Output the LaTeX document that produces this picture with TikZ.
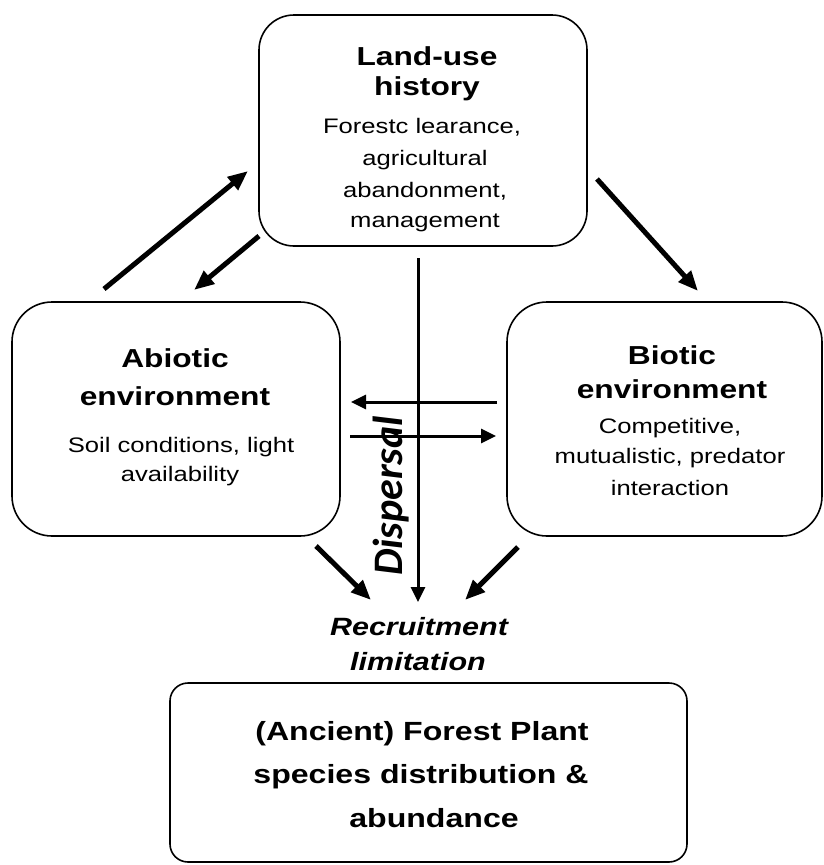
\documentclass[tikz,border=0pt]{standalone}
\usepackage{fontspec}
\setmainfont{Liberation Sans}[FakeStretch=1.22]
\newfontfamily\dispfont{Carlito}
\usetikzlibrary{arrows.meta}
\begin{document}
\begin{tikzpicture}[x=1pt,y=-1pt,
  box/.style={draw, line width=1.6pt, rounded corners=#1, inner sep=0pt},
  box/.default=35pt,
  ttl/.style={inner sep=0pt, anchor=base, font=\fontsize{26}{30}\selectfont\bfseries},
  txt/.style={inner sep=0pt, anchor=base, font=\fontsize{21}{25}\selectfont},
  big/.style={inner sep=0pt, anchor=base, font=\fontsize{26.3}{30}\selectfont\bfseries},
  reclbl/.style={inner sep=0pt, anchor=base, font=\fontsize{25}{30}\selectfont\bfseries\itshape},
  tarr/.style={line width=5pt, -{Triangle[length=20pt,width=16pt]}},
  narr/.style={line width=3pt, -{Triangle[length=15pt,width=14pt]}}
]
\useasboundingbox (0,0) rectangle (823,865);

% boxes
\node[box] (land) at (423,130.5) [minimum width=328pt, minimum height=231pt] {};
\node[box=40pt] (abio) at (176,419) [minimum width=328pt, minimum height=234pt] {};
\node[box=40pt] (bio) at (664.5,419) [minimum width=315pt, minimum height=234pt] {};
\node[box=18pt] (dist) at (428.5,772.5) [minimum width=517pt, minimum height=179pt] {};

% top box text
\node[ttl] (l1) at (427,65) {Land-use};
\node[ttl] (l2) at (427,95) {history};
\node[txt] (l3) at (422,133) {Forestc learance,};
\node[txt] (l4) at (425,165) {agricultural};
\node[txt] (l5) at (425,197) {abandonment,};
\node[txt] (l6) at (425,227) {management};

% abiotic text
\node[ttl] (a1) at (175,367) {Abiotic};
\node[ttl] (a2) at (175,405) {environment};
\node[txt] (a3) at (181,452) {Soil conditions, light};
\node[txt] (a4) at (180,481) {availability};

% biotic text
\node[ttl] (b1) at (672,364) {Biotic};
\node[ttl] (b2) at (672,398) {environment};
\node[txt] (b3) at (670,433) {Competitive,};
\node[txt] (b4) at (670,463) {mutualistic, predator};
\node[txt] (b5) at (670,495) {interaction};

% bottom box text
\node[big] (d1) at (422,740) {(Ancient) Forest Plant};
\node[big] (d2) at (421,783) {species distribution \&};
\node[big] (d3) at (434,827) {abundance};

% recruitment label
\node[reclbl] (r1) at (419,635) {Recruitment};
\node[reclbl] (r2) at (418,670) {limitation};

% connector end points
\coordinate (p1) at (104,289);  \coordinate (q1) at (248,171);
\coordinate (p2) at (259,236);  \coordinate (q2) at (194,290);
\coordinate (p3) at (597,179);  \coordinate (q3) at (698,291);
\coordinate (p4) at (418,258);  \coordinate (q4) at (418,602);
\coordinate (p5) at (497,402);  \coordinate (q5) at (351,402);
\coordinate (p6) at (350,436);  \coordinate (q6) at (496,436);
\coordinate (p7) at (316,546);  \coordinate (q7) at (371,600);
\coordinate (p8) at (518,547);  \coordinate (q8) at (465,600);

\draw[tarr] (p1) -- (q1);
\draw[tarr] (p2) -- (q2);
\draw[tarr] (p3) -- (q3);
\draw[narr] (p4) -- (q4);
\draw[narr] (p5) -- (q5);
\draw[narr] (p6) -- (q6);
\draw[tarr] (p7) -- (q7);
\draw[tarr] (p8) -- (q8);

\node[rotate=90, anchor=base, inner sep=0pt,
      font=\dispfont\fontsize{42}{46}\selectfont\bfseries\itshape] (disp) at (402,496) {Dispersal};
\end{tikzpicture}
\end{document}
